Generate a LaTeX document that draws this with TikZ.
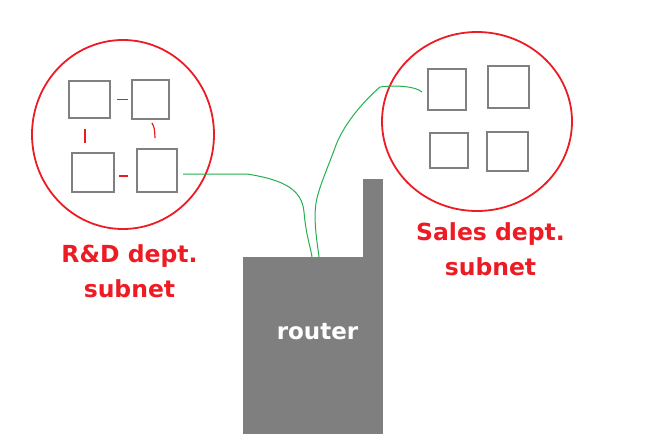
\documentclass[tikz,border=0pt]{standalone}
\usepackage{fontspec}
\usepackage{tikz}
\usetikzlibrary{positioning,calc,shapes.geometric}
\newfontfamily\labelfont{DejaVu Sans}
\definecolor{paintred}{RGB}{237,28,36}
\definecolor{paintgreen}{RGB}{34,177,76}
\definecolor{hostgray}{RGB}{128,128,128}
\definecolor{routergray}{RGB}{127,127,127}
\begin{document}
\begin{tikzpicture}[x=1pt, y=-1pt, host/.style={draw=hostgray, line width=2pt, fill=white, inner sep=0pt}, subnet/.style={ellipse, draw=paintred, line width=1.8pt, inner sep=0pt}, link/.style={draw=paintred, line width=1.2pt}, wire/.style={draw=paintgreen, line width=1pt}, netlabel/.style={text=paintred, inner sep=0pt, align=center, font=\fontsize{23.5}{35}\selectfont\labelfont\bfseries}]
\useasboundingbox (0,0) rectangle (660,434);
\node[subnet, minimum width=182pt, minimum height=189pt] (rdnet) at (123,134.5) {};
\node[subnet, minimum width=190pt, minimum height=179pt] (salesnet) at (477,121.5) {};
\node[host, minimum width=41pt, minimum height=37pt] (rd1) at (89.5,99.5) {};
\node[host, minimum width=37pt, minimum height=39pt] (rd2) at (150.5,99.5) {};
\node[host, minimum width=42pt, minimum height=39pt] (rd3) at (93,172.5) {};
\node[host, minimum width=40pt, minimum height=43pt] (rd4) at (157,170.5) {};
\node[host, minimum width=38pt, minimum height=41pt] (sa1) at (447,89.5) {};
\node[host, minimum width=41pt, minimum height=42pt] (sa2) at (508.5,87) {};
\node[host, minimum width=38pt, minimum height=35pt] (sa3) at (449,150.5) {};
\node[host, minimum width=41pt, minimum height=39pt] (sa4) at (507.5,151.5) {};
\draw[link] ($(rd1.east)+(6,-0.4)$) -- ($(rd2.west)+(-3,-0.4)$);
\draw[link] ($(rd1.south)+(-4.5,10)$) -- ($(rd3.north)+(-8,-9)$);
\draw[link] ($(rd2.south)+(1.5,3)$) .. controls ($(rd2.south)+(4,8)$) .. ($(rd4.north)+(-2,-10)$);
\draw[link] ($(rd3.east)+(4,3.5)$) -- ($(rd4.west)+(-8,5.5)$);
\node[netlabel, anchor=north] (rdlabel) at (129.5,244) {R\&D dept.\\subnet};
\node[netlabel, anchor=north] (saleslabel) at (490.5,222) {Sales dept.\\subnet};
\node[fill=routergray, minimum width=20pt, minimum height=78pt, inner sep=0pt] (antenna) at (373,218) {};
\node[fill=routergray, minimum width=140pt, minimum height=177pt, inner sep=0pt] (router) at (313,345.5) {};
\node[text=white, inner sep=0pt, anchor=base, font=\fontsize{23}{28}\selectfont\labelfont\bfseries] (routerlabel) at (317.5,339) {router};
\draw[wire] ($(rd4.east)+(5,3.5)$) -- (247,174) .. controls (285,180) and (302,190) .. (304,212) .. controls (306,235) and (310,245) .. ($(router.north)+(-1,0)$);
\draw[wire] ($(router.north)+(6,0)$) .. controls (316,235) and (313,215) .. (317,198) .. controls (321,182) and (330,162) .. (336,145) .. controls (345,122) and (365,100) .. (380,87) .. controls (395,85) and (415,86) .. ($(sa1.west)+(-5,2.5)$);
\end{tikzpicture}
\end{document}
